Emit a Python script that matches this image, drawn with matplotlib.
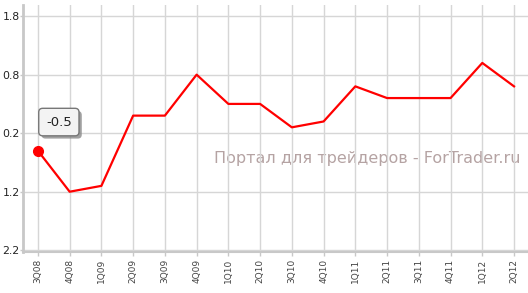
import matplotlib.pyplot as plt
import matplotlib.patheffects as pe

quarters = ['3Q08', '4Q08', '1Q09', '2Q09', '3Q09', '4Q09', '1Q10', '2Q10',
            '3Q10', '4Q10', '1Q11', '2Q11', '3Q11', '4Q11', '1Q12', '2Q12']
values = [-0.5, -1.2, -1.1, 0.1, 0.1, 0.8, 0.3, 0.3,
          -0.1, 0.0, 0.6, 0.4, 0.4, 0.4, 1.0, 0.6]
yticks = [1.8, 0.8, -0.2, -1.2, -2.2]
ytick_labels = ['1.8', '0.8', '0.2', '1.2', '2.2']  # as shown in the picture (no minus)

fig = plt.figure(figsize=(5.28, 2.93), dpi=100)
ax = fig.add_axes([23 / 528, 41 / 293, 505 / 528, 247 / 293])

x = list(range(len(quarters)))
ax.plot(x, values, color='#ff0000', lw=1.6, zorder=3)
ax.plot(x[0], values[0], 'o', color='#ff0000', ms=7, zorder=4)

ax.set_xlim(-0.47, 15.44)
ax.set_ylim(-2.23, 1.99)
ax.set_xticks(x)
ax.set_xticklabels(quarters, rotation=90, fontsize=6.5, color='#444444')
ax.set_yticks(yticks)
ax.set_yticklabels(ytick_labels, fontsize=7.8, color='#222222')
ax.grid(True, color='#d6d6d6', lw=1, zorder=1)
ax.set_axisbelow(True)

for s in ['top', 'right']:
    ax.spines[s].set_visible(False)
ax.spines['left'].set_color('#c8c8c8')
ax.spines['left'].set_linewidth(2)
ax.spines['bottom'].set_color('#c8c8c8')
ax.spines['bottom'].set_linewidth(1.5)
ax.tick_params(axis='x', color='#c8c8c8', length=3, width=1, pad=2)
ax.tick_params(axis='y', color='#c8c8c8', length=2, width=1, pad=0.5)

# watermark under the grid
ax.text(0.985, 0.38, 'Портал для трейдеров - ForTrader.ru', transform=ax.transAxes,
        ha='right', va='center', fontsize=11.5, color='#b5a3a3', zorder=0)

# tooltip with a soft shadow
tip = ax.text(0.66, -0.01, '-0.5', fontsize=9.5, color='#222222', ha='center', va='center', zorder=6,
              bbox=dict(boxstyle='round,pad=0.55,rounding_size=0.3', fc='#f3f3f3', ec='#777777', lw=1))
tip.get_bbox_patch().set_path_effects([
    pe.SimplePatchShadow(offset=(2, -2), shadow_rgbFace='#888888', alpha=0.8), pe.Normal()])

fig.savefig('out.png', dpi=100)
